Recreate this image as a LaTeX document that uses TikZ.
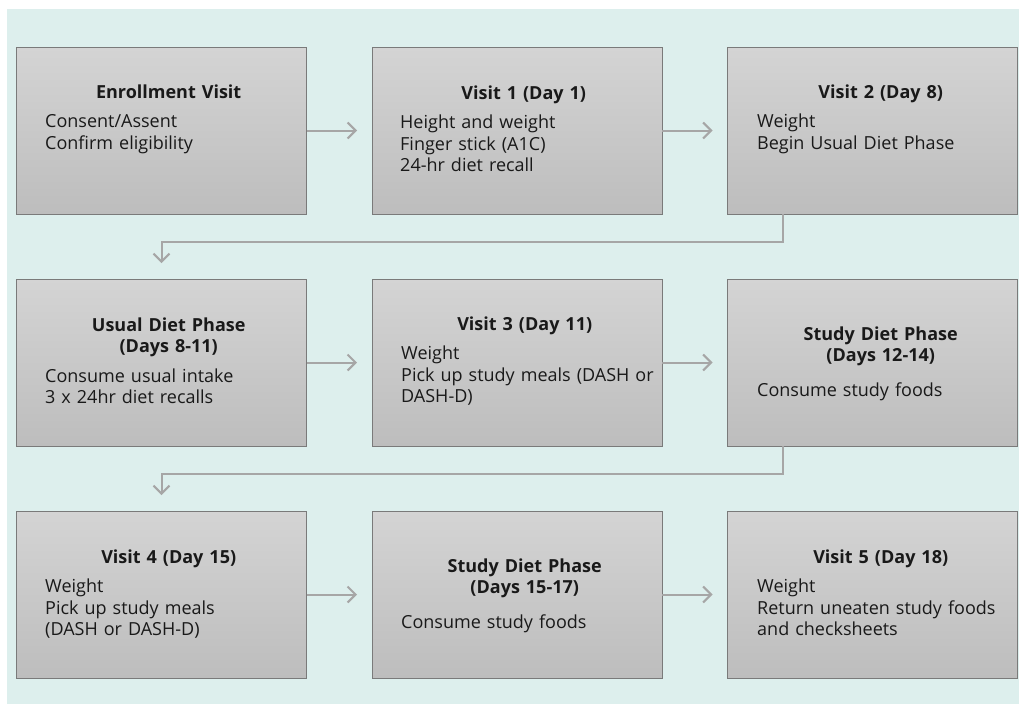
\documentclass[tikz,border=0pt]{standalone}
\usepackage{fontspec}
\setmainfont{Open Sans}
\usetikzlibrary{arrows.meta}
\definecolor{bgteal}{HTML}{DDEFED}
\definecolor{boxtop}{HTML}{D4D4D4}
\definecolor{boxbot}{HTML}{BDBDBD}
\definecolor{boxline}{HTML}{7A7A7A}
\definecolor{flowgray}{HTML}{A6A6A6}
\tikzset{
  stage/.style={draw=boxline, line width=1pt, top color=boxtop, bottom color=boxbot,
    minimum width=290pt, minimum height=167pt, inner sep=0pt, outer sep=0pt},
  stagetext/.style={anchor=base west, inner sep=0pt, text width=247pt, align=left,
    font=\fontsize{18pt}{21.5pt}\selectfont, text=black!90},
  flow/.style={draw=flowgray, line width=2pt, shorten >=15pt,
    -{Straight Barb[length=8pt,width=16pt,line width=2pt]}}
}
\begin{document}
\begin{tikzpicture}[x=1pt,y=-1pt]
        \useasboundingbox (0,0) rectangle (1019,704);
        \fill[bgteal] (7,9) rectangle (1019,704);

        \node[stage] (b1) at (161.5,130.5) {};
        \node[stage] (b2) at (517,130.5) {};
        \node[stage] (b3) at (872.5,130.5) {};
        \node[stage] (b4) at (161.5,362.5) {};
        \node[stage] (b5) at (517,362.5) {};
        \node[stage] (b6) at (872.5,362.5) {};
        \node[stage] (b7) at (161.5,594.5) {};
        \node[stage] (b8) at (517,594.5) {};
        \node[stage] (b9) at (872.5,594.5) {};

        \node[stagetext] (t1) at (45,98) {{\centering\bfseries Enrollment Visit\par}\vspace{8pt}
            Consent/Assent\\Confirm eligibility};
        \node[stagetext] (t2) at (400,99) {{\centering\bfseries Visit 1 (Day 1)\par}\vspace{8pt}
            Height and weight\\Finger stick (A1C)\\24-hr diet recall};
        \node[stagetext] (t3) at (757,98) {{\centering\bfseries Visit 2 (Day 8)\par}\vspace{8pt}
            Weight\\Begin Usual Diet Phase};
        \node[stagetext] (t4) at (45,331) {{\centering\bfseries Usual Diet Phase\\(Days 8-11)\par}\vspace{8pt}
            Consume usual intake\\3 x 24hr diet recalls};
        \node[stagetext] (t5) at (401,330) {{\centering\bfseries Visit 3 (Day 11)\par}\vspace{8pt}
            Weight\\\mbox{Pick up study meals (DASH or}\\DASH-D)};
        \node[stagetext] (t6) at (757,340) {{\centering\bfseries Study Diet Phase\\(Days 12-14)\par}\vspace{13pt}
            Consume study foods};
        \node[stagetext] (t7) at (45,563) {{\centering\bfseries Visit 4 (Day 15)\par}\vspace{8pt}
            Weight\\Pick up study meals\\(DASH or DASH-D)};
        \node[stagetext] (t8) at (401,572) {{\centering\bfseries Study Diet Phase\\(Days 15-17)\par}\vspace{13pt}
            Consume study foods};
        \node[stagetext] (t9) at (757,563) {{\centering\bfseries Visit 5 (Day 18)\par}\vspace{8pt}
            Weight\\Return uneaten study foods\\and checksheets};

        \coordinate (k1) at (783,242);
        \coordinate (k2) at (783,474);

        \draw[flow] (b1) -- (b2);
        \draw[flow] (b2) -- (b3);
        \draw[flow, shorten >=16pt] (b3.south -| k1) -- (k1) -| (b4.north);
        \draw[flow] (b4) -- (b5);
        \draw[flow] (b5) -- (b6);
        \draw[flow, shorten >=16pt] (b6.south -| k2) -- (k2) -| (b7.north);
        \draw[flow] (b7) -- (b8);
        \draw[flow] (b8) -- (b9);
    \end{tikzpicture}
\end{document}
